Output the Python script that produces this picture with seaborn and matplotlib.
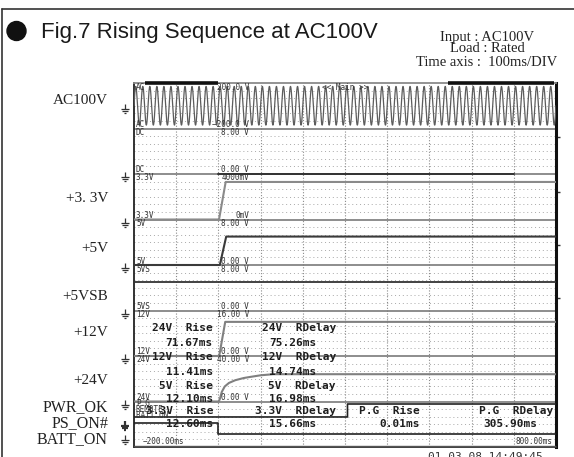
import numpy as np
import matplotlib
matplotlib.use("Agg")
import matplotlib.pyplot as plt
import matplotlib.transforms as mtransforms
from matplotlib.path import Path
from matplotlib.patches import Ellipse
import seaborn as sns

# ---------------- recorder settings ----------------
T_START_MS = -200.0
T_END_MS = 800.0
MS_PER_DIV = 100

# AC input
AC_RANGE_V = 200.0
AC_PEAK_V = 170.0
LINE_HZ = 60.0

# DC rails (10-90 % rise time and delay to 90 %)
RAIL_NAMES = ["24V", "12V", "5V", "3.3V"]
RAIL_RISE_MS = [71.67, 11.41, 12.10, 12.60]
RAIL_RDELAY_MS = [75.26, 14.74, 16.98, 15.66]
RAIL_FINAL_V = [24.0, 12.0, 5.0, 3.3]
RAIL_FULL_SCALE_V = [40.0, 16.0, 8.0, 4.0]
RAIL_BAND = [6, 5, 3, 2]
RAIL_COLOR = ["#808080", "#808080", "#3a3a3a", "#8a8a8a"]

# slow 24 V rail: shape of the edge between its 10 % and 90 % points
V24_MID_T_MS = [8.0, 15.0, 25.0, 40.0, 60.0]
V24_MID_FRAC = [0.35, 0.55, 0.68, 0.78, 0.86]
V24_TAIL_T_MS = [100.0, 130.0]
V24_TAIL_FRAC = [0.96, 1.0]

# standby rail and spare DC channel
STBY_V = 5.0
STBY_FULL_SCALE_V = 8.0
DC_SPARE_V = 0.0
DC_SPARE_T_MS = [0.0, 700.0]

# logic signals
PG_RISE_MS = 0.01
PG_RDELAY_MS = 305.90
PS_ON_FALL_MS = 0.0
PWR_OK_LEVELS = [0.66, 0.945]   # low, high (fraction of logic band)
PS_ON_LEVELS = [0.286, 0.527]
BATT_ON_LEVEL = 0.03

LEFT_LABELS = ["AC100V", "+3. 3V", "+5V", "+5VSB", "+12V", "+24V"]
LEFT_LABEL_Y = [101, 199, 248, 297, 333, 380]
LOGIC_LABELS = ["PWR_OK", "PS_ON#", "BATT_ON"]
LOGIC_LABEL_Y = [407, 423, 439]

W, H = 574, 457
N_BANDS = 8


def band_y(band, frac):
    """Vertical position of a fraction inside a band (band 0 is at the top)."""
    return (N_BANDS - 1 - band) + frac


def fx(px):
    return px / W


def fy(py):
    return 1 - py / H


sns.set_theme(style="white")
plt.rcParams["font.family"] = ["DejaVu Sans"]

fig = plt.figure(figsize=(W / 100, H / 100), dpi=100)
fig.patch.set_facecolor("white")

ax = fig.add_axes([fx(134), fy(447), (556 - 134) / W, (447 - 83) / H])
ax.set_xlim(T_START_MS, T_END_MS)
ax.set_ylim(0, N_BANDS)
ax.set_facecolor("white")
ax.set_xticks([])
ax.set_yticks([])

# ---------------- grid ----------------
for b in range(N_BANDS):
    for j in range(1, 6):
        ax.axhline(b + j / 6, color="#a8a8a8", lw=0.7, ls=(0, (1, 3)), zorder=1)
for t in np.arange(T_START_MS + MS_PER_DIV, T_END_MS, MS_PER_DIV):
    ax.axvline(t, color="#8a8a8a", lw=0.8, ls=(0, (1, 1.6)), zorder=1)
for b in range(1, N_BANDS):
    ax.axhline(b, color="#7a7a7a", lw=1.2, zorder=2)

for side, col, lw in [("left", "#222222", 1.3), ("right", "#111111", 2.2),
                      ("top", "#8a8a8a", 1.3), ("bottom", "#333333", 1.3)]:
    ax.spines[side].set_visible(True)
    ax.spines[side].set_color(col)
    ax.spines[side].set_linewidth(lw)

trace_kw = dict(ax=ax, estimator=None, sort=False, legend=False, zorder=4)

# ---------------- AC input ----------------
t_ac = np.linspace(T_START_MS, T_END_MS, 12001)
v_ac = AC_PEAK_V * np.sin(2 * np.pi * LINE_HZ * t_ac / 1000.0)
sns.lineplot(x=t_ac, y=band_y(0, 0.5 + v_ac / (2 * AC_RANGE_V)),
             color="#5c5c5c", linewidth=0.9, **trace_kw)

# ---------------- spare DC channel ----------------
sns.lineplot(x=DC_SPARE_T_MS, y=[band_y(1, DC_SPARE_V / 8.0)] * 2,
             color="#333333", linewidth=1.4, **trace_kw)

# ---------------- standby rail (already on) ----------------
sns.lineplot(x=[T_START_MS, T_END_MS], y=[band_y(4, STBY_V / STBY_FULL_SCALE_V)] * 2,
             color="#333333", linewidth=1.3, **trace_kw)

# ---------------- main rails ----------------
for name, rise, rdel, vfin, fs, band, col in zip(RAIL_NAMES, RAIL_RISE_MS, RAIL_RDELAY_MS,
                                                 RAIL_FINAL_V, RAIL_FULL_SCALE_V,
                                                 RAIL_BAND, RAIL_COLOR):
    t10, t90 = rdel - rise, rdel
    if name == "24V":
        t = [T_START_MS, 1.0, t10] + V24_MID_T_MS + [t90] + V24_TAIL_T_MS + [T_END_MS]
        f = [0.0, 0.0, 0.10] + V24_MID_FRAC + [0.90] + V24_TAIL_FRAC + [1.0]
    else:
        t = [T_START_MS, t10 - rise / 8, t90 + rise / 8, T_END_MS]
        f = [0.0, 0.0, 1.0, 1.0]
    y = [band_y(band, fr * vfin / fs) for fr in f]
    sns.lineplot(x=t, y=y, color=col, linewidth=1.5, **trace_kw)

# ---------------- logic signals ----------------
pg_t = [T_START_MS, PG_RDELAY_MS - PG_RISE_MS, PG_RDELAY_MS, T_END_MS]
pg_y = [band_y(7, v) for v in [PWR_OK_LEVELS[0], PWR_OK_LEVELS[0], PWR_OK_LEVELS[1], PWR_OK_LEVELS[1]]]
sns.lineplot(x=pg_t, y=pg_y, color="#222222", linewidth=1.2, **trace_kw)

ps_t = [T_START_MS, PS_ON_FALL_MS, PS_ON_FALL_MS, T_END_MS]
ps_y = [band_y(7, v) for v in [PS_ON_LEVELS[1], PS_ON_LEVELS[1], PS_ON_LEVELS[0], PS_ON_LEVELS[0]]]
sns.lineplot(x=ps_t, y=ps_y, color="#222222", linewidth=1.2, **trace_kw)

sns.lineplot(x=[T_START_MS, T_END_MS], y=[band_y(7, BATT_ON_LEVEL)] * 2,
             color="#555555", linewidth=1.0, **trace_kw)

# ---------------- display-window bars above the screen ----------------
bar_tr = mtransforms.blended_transform_factory(ax.transData, ax.transAxes)
for t0, t1 in [(-173, 0), (543, 795)]:
    ax.plot([t0, t1], [1.0, 1.0], color="#111111", lw=2.6, transform=bar_tr,
            clip_on=False, solid_capstyle="butt", zorder=6)

# small level markers on the right edge
ax.yaxis.set_ticks_position("right")
ax.set_yticks([6.81, 5.60, 4.44, 3.27])
ax.set_yticklabels([])
ax.tick_params(axis="y", which="both", right=True, length=3, width=1, color="#333333", direction="out")

# ---------------- ground markers on the left ----------------
gnd = Path([(0, 1.0), (0, 0), (-0.9, 0), (0.9, 0), (-0.55, -0.4), (0.55, -0.4),
            (-0.2, -0.8), (0.2, -0.8)],
           [Path.MOVETO, Path.LINETO, Path.MOVETO, Path.LINETO,
            Path.MOVETO, Path.LINETO, Path.MOVETO, Path.LINETO])
gnd_tr = mtransforms.blended_transform_factory(ax.transAxes, ax.transData) + \
    mtransforms.ScaledTranslation(0, -3 / 100, fig.dpi_scale_trans)
gnd_levels = [band_y(0, 0.5), band_y(1, 0), band_y(2, 0), band_y(3, 0),
              band_y(4, 0), band_y(5, 0), band_y(6, 0),
              band_y(7, PS_ON_LEVELS[1]), band_y(7, 0.22)]
for i, lv in enumerate(gnd_levels):
    ax.plot([-0.021], [lv], marker=gnd, ms=7, color="#333333",
            mew=1.6 if i == 7 else 0.9, transform=gnd_tr, clip_on=False, zorder=6)

# ---------------- on-screen channel captions ----------------
mono = dict(family="DejaVu Sans Mono", color="#333333", fontsize=5.5, va="center")
band_top_px = [83 + 45.5 * k for k in range(N_BANDS)]
captions = [
    ("AC", f"{AC_RANGE_V:.1f} V", "AC", f"\u2212{AC_RANGE_V:.1f} V"),
    ("DC", "8.00 V", "DC", f"{DC_SPARE_V:.2f} V"),
    ("3.3V", f"{RAIL_FULL_SCALE_V[3] * 1000:.0f}mV", "3.3V", "0mV"),
    ("5V", f"{RAIL_FULL_SCALE_V[2]:.2f} V", "5V", "0.00 V"),
    ("5VS", f"{STBY_FULL_SCALE_V:.2f} V", "5VS", "0.00 V"),
    ("12V", f"{RAIL_FULL_SCALE_V[1]:.2f} V", "12V", "0.00 V"),
    ("24V", f"{RAIL_FULL_SCALE_V[0]:.2f} V", "24V", "0.00 V"),
]
for k, (tl, tr, bl, br) in enumerate(captions):
    top = band_top_px[k]
    bot = top + 45.5
    fig.text(fx(136), fy(top + 4), tl, ha="left", **mono)
    fig.text(fx(249), fy(top + 4), tr, ha="right", **mono)
    fig.text(fx(136), fy(bot - 4), bl, ha="left", **mono)
    fig.text(fx(249), fy(bot - 4), br, ha="right", **mono)
fig.text(fx(322), fy(87), "<< Main >>", ha="left", **mono)
for lab, py in zip(["P.G", "REMOTE", "BATT ON"], [404, 409.5, 415]):
    fig.text(fx(136), fy(py), lab, ha="left", **mono)
fig.text(fx(143), fy(442), f"{T_START_MS:.2f}ms".replace("-", "\u2212"), ha="left", **mono)
fig.text(fx(553), fy(442), f"{T_END_MS:.2f}ms", ha="right", **mono)

# ---------------- measurement read-outs ----------------
meas = dict(family="DejaVu Sans Mono", fontweight="bold", color="#1e1e1e",
            fontsize=8, va="center", ha="right")
row_y = {"24V": (328, 343), "12V": (357, 372), "5V": (386, 399), "3.3V": (411, 424)}
for name, rise, rdel in zip(RAIL_NAMES, RAIL_RISE_MS, RAIL_RDELAY_MS):
    yl, yv = row_y[name]
    fig.text(fx(213), fy(yl), f"{name}  Rise", **meas)
    fig.text(fx(213), fy(yv), f"{rise:.2f}ms", **meas)
    fig.text(fx(336), fy(yl), f"{name}  RDelay", **meas)
    fig.text(fx(316), fy(yv), f"{rdel:.2f}ms", **meas)
fig.text(fx(420), fy(411), "P.G  Rise", **meas)
fig.text(fx(420), fy(424), f"{PG_RISE_MS:.2f}ms", **meas)
fig.text(fx(553), fy(411), "P.G  RDelay", **meas)
fig.text(fx(537), fy(424), f"{PG_RDELAY_MS:.2f}ms", **meas)

# recorder time stamp along the bottom edge
fig.text(fx(428), fy(452.5), "01-03-08 14:49:45", family="DejaVu Sans Mono",
         fontsize=8, color="#333333", ha="left", va="top")

# ---------------- left-hand signal names ----------------
for lab, py in zip(LEFT_LABELS, LEFT_LABEL_Y):
    fig.text(fx(108), fy(py), lab, family="Liberation Serif", fontsize=11,
             color="#222222", ha="right", va="center")
for lab, py in zip(LOGIC_LABELS, LOGIC_LABEL_Y):
    fig.text(fx(108), fy(py), lab, family="Liberation Serif", fontsize=11.5,
             color="#222222", ha="right", va="center")

# ---------------- heading ----------------
fig.add_artist(Ellipse((fx(16.5), fy(31)), 19 / W, 19 / H, transform=fig.transFigure,
                       color="#111111"))
fig.text(fx(41), fy(38), "Fig.7 Rising Sequence at AC100V", family="Liberation Sans",
         fontsize=16, color="#1a1a1a", ha="left", va="baseline")
for line, py in zip(["Input : AC100V", "Load : Rated", "Time axis :  100ms/DIV"], [37, 49, 63]):
    fig.text(fx(487), fy(py), line, family="Liberation Serif", fontsize=10.5,
             color="#222222", ha="center", va="center")

# page frame
fig.add_artist(plt.Line2D([fx(2), 1.0], [fy(9), fy(9)], transform=fig.transFigure,
                          color="#333333", lw=1.2))
fig.add_artist(plt.Line2D([fx(2), fx(2)], [fy(9), 0.0], transform=fig.transFigure,
                          color="#333333", lw=1.2))

fig.savefig("out.png", dpi=100, facecolor="white")
